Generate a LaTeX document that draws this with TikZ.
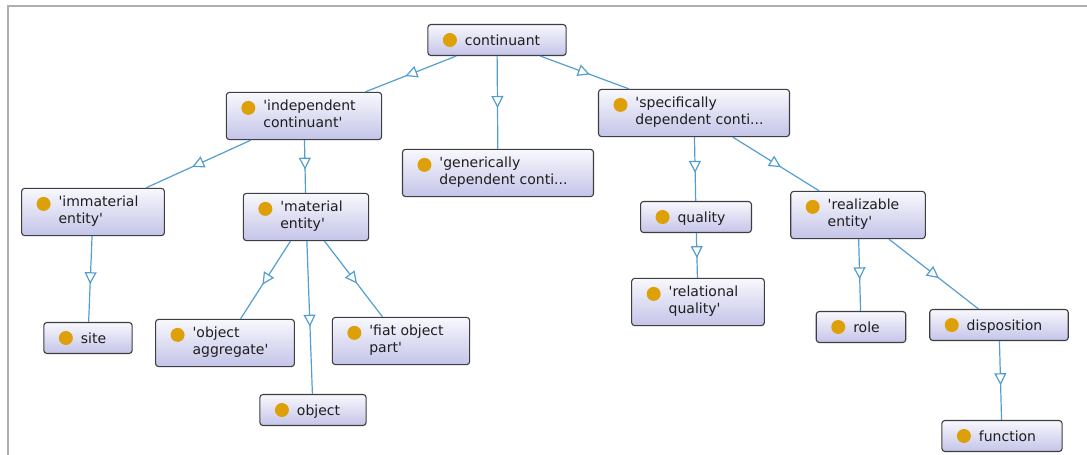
\documentclass[tikz,border=0pt]{standalone}
\usepackage{fontspec}
\setmainfont{DejaVu Sans}[Ligatures=TeXOff]
\usetikzlibrary{arrows.meta,decorations.markings}

\definecolor{edgeblue}{RGB}{84,158,206}
\definecolor{boxline}{RGB}{62,62,66}
\definecolor{boxtop}{RGB}{248,248,253}
\definecolor{boxbot}{RGB}{196,196,233}
\definecolor{dotorange}{RGB}{222,160,8}
\definecolor{framegray}{RGB}{178,172,176}

\newcommand{\twol}[2]{\begin{tabular}{@{}l@{}}#1\\#2\end{tabular}}
\renewcommand{\arraystretch}{0.95}

\tikzset{
  cls/.style={rectangle, rounded corners=3pt, draw=boxline, line width=1.1pt,
    top color=boxtop, bottom color=boxbot, text={rgb,255:red,30;green,30;blue,30},
    font=\fontsize{14}{18}\selectfont, inner xsep=0pt, inner ysep=6.5pt,
    minimum height=31pt,
    execute at begin node={\hspace*{37pt}\rule[-4pt]{0pt}{18pt}},
    execute at end node={\hspace*{26pt}},
    path picture={\fill[dotorange] ([xshift=22pt,yshift=-15.5pt]path picture bounding box.north west) circle (7pt);}},
  isa/.style={draw=edgeblue, line width=1.2pt, postaction={decorate},
    decoration={markings, mark=at position 0.56 with {\arrow{Triangle[length=12pt,width=12pt,fill=white,line width=1.2pt]}}}}
}

\begin{document}
\begin{tikzpicture}[x=1pt, y=-1pt]
    \useasboundingbox (0,0) rectangle (1087,455);
    \draw[framegray, line width=1.2pt] (8,455) -- (8,6) -- (1087,6);

    \node[cls] (cont) at (497, 40) {continuant};

    \node[cls] (indep) at (304, 116) {\twol{'independent}{continuant'}};
    \node[cls] (gdc) at (498, 173) {\twol{'generically}{dependent conti...}};
    \node[cls] (sdc) at (694, 113) {\twol{'specifically}{dependent conti...}};

    \node[cls] (imm) at (93, 212) {\twol{'immaterial}{entity'}};
    \node[cls] (mat) at (306, 217) {\twol{'material}{entity'}};
    \node[cls] (qual) at (696, 217) {quality};
    \node[cls] (real) at (858, 215) {\twol{'realizable}{entity'}};

    \node[cls] (site) at (88, 338) {site};
    \node[cls] (oagg) at (225, 343) {\twol{'object}{aggregate'}};
    \node[cls] (fiat) at (401, 341) {\twol{'fiat object}{part'}};
    \node[cls] (obj) at (313, 410) {object};
    \node[cls] (relq) at (698, 302) {\twol{'relational}{quality'}};
    \node[cls] (role) at (861, 327) {role};
    \node[cls] (disp) at (999, 325) {disposition};
    \node[cls] (func) at (1002, 436) {function};

    \draw[isa] (cont) -- (indep);
    \draw[isa] (cont) -- (gdc);
    \draw[isa] (cont) -- (sdc);
    \draw[isa] (indep) -- (imm);
    \draw[isa] (indep) -- (mat);
    \draw[isa] (imm) -- (site);
    \draw[isa] (mat) -- (oagg);
    \draw[isa] (mat) -- (obj);
    \draw[isa] (mat) -- (fiat);
    \draw[isa] (sdc) -- (qual);
    \draw[isa] (sdc) -- (real);
    \draw[isa] (qual) -- (relq);
    \draw[isa] (real) -- (role);
    \draw[isa] (real) -- (disp);
    \draw[isa] (disp) -- (func);
\end{tikzpicture}
\end{document}
